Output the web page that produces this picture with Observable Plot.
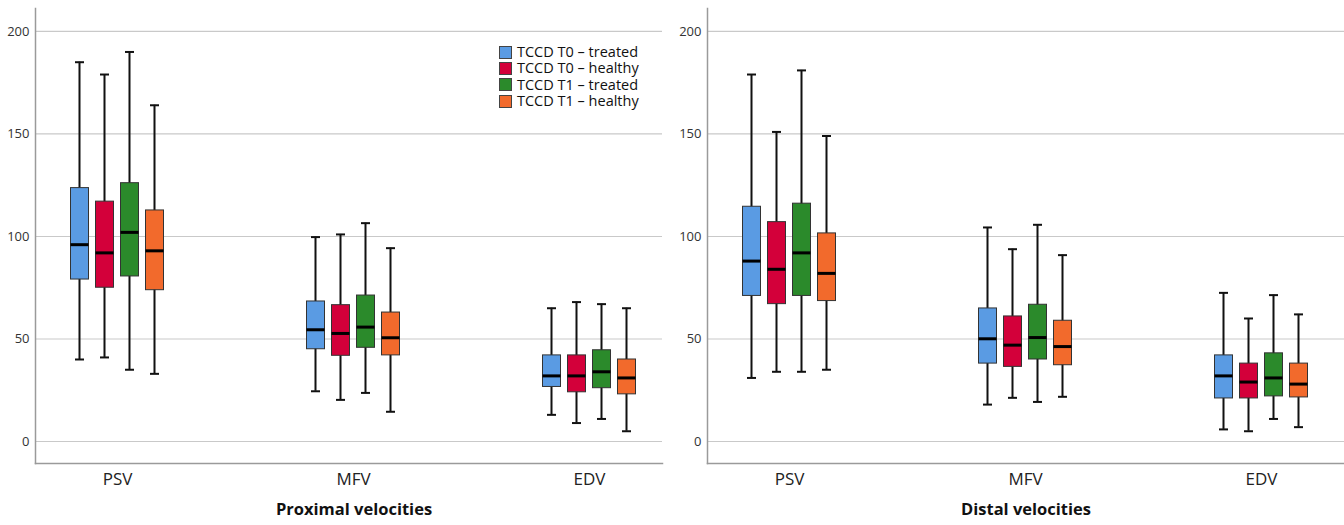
<!DOCTYPE html>
<html><head><meta charset="utf-8">
<script src="https://cdn.jsdelivr.net/npm/d3@7"></script>
<script src="https://cdn.jsdelivr.net/npm/@observablehq/plot@0.6"></script>
<style>
body{margin:0;background:#fff;}
#wrap{position:relative;width:1344px;height:525px;display:flex;}
.legend{position:absolute;left:499px;top:44px;font-family:"Open Sans",sans-serif;font-size:14.5px;color:#111;line-height:16.4px}
.legend .row{display:flex;align-items:center;height:16.4px;}
.legend .sw{width:11px;height:11px;border:1px solid #444;margin-right:5px;display:inline-block}
</style></head><body><div id="wrap"></div>
<script>
const metrics = ["PSV", "MFV", "EDV"];
const groups = ["TCCD T0 – treated", "TCCD T0 – healthy", "TCCD T1 – treated", "TCCD T1 – healthy"];
const colors = ["#5A9BE3", "#D3003A", "#2B8A2B", "#F26A2C"];
const yTicks = [0, 50, 100, 150, 200];

// order: PSV(4 groups), MFV(4 groups), EDV(4 groups)
const proximalMin    = [40, 41, 35, 33,   24.5, 20.3, 23.7, 14.5,  13, 9, 11, 5];
const proximalQ1     = [79, 75, 80.5, 73.8, 45, 41.8, 45.7, 42,    26.6, 24, 26, 23];
const proximalMedian = [96, 92, 102, 93,  54.5, 52.7, 55.8, 50.6,  32, 32, 34, 31];
const proximalQ3     = [123.6, 117, 126, 112.7, 68.3, 66.5, 71.2, 62.9, 42, 42, 44.5, 40];
const proximalMax    = [185, 179, 190, 164, 99.7, 101, 106.5, 94.3, 65, 68, 67, 65];

const distalMin    = [31, 34, 34, 35,   18, 21.3, 19.3, 21.8,  5.9, 5, 11, 7];
const distalQ1     = [71, 67, 71, 68.5, 38, 36.4, 40, 37.2,    21, 21, 22, 21.5];
const distalMedian = [88, 84, 92, 82,   50.1, 47, 50.7, 46.3,  32, 29, 31, 28];
const distalQ3     = [114.5, 107, 116, 101.5, 64.9, 61, 66.7, 58.9, 42, 38, 43, 38];
const distalMax    = [179, 151, 181, 149, 104.4, 93.8, 105.7, 90.9, 72.5, 60, 71.4, 62];

function panel(title, mins, q1s, meds, q3s, maxs, marginRight, titleDx) {
  const rows = [];
  metrics.forEach((m, mi) => groups.forEach((g, gi) => {
    const k = mi * 4 + gi;
    rows.push({metric: m, group: g, gi, min: mins[k], q1: q1s[k], median: meds[k], q3: q3s[k], max: maxs[k]});
  }));
  const slot = 25;
  const marks = [
    Plot.ruleY(yTicks, {stroke: "#c9c9c9", strokeWidth: 1.2}),
    Plot.frame({anchor: "left", stroke: "#9a9a9a", strokeWidth: 1.5}),
    Plot.frame({anchor: "bottom", stroke: "#9a9a9a", strokeWidth: 1.5}),
    Plot.axisY(yTicks, {tickSize: 0, tickPadding: 6, fontSize: 13, fill: "#333", label: null}),
    Plot.axisX({tickSize: 0, tickPadding: 9, fontSize: 17, fill: "#222", label: null}),
    Plot.text([title], {frameAnchor: "bottom", dy: 51, dx: titleDx, fontSize: 16.5, fontWeight: "bold", fill: "#111"})
  ];
  groups.forEach((g, gi) => {
    const d = rows.filter(r => r.gi === gi);
    const L = gi * slot, R = (3 - gi) * slot;
    marks.push(Plot.barY(d, {x: "metric", y1: "min", y2: "max", fill: "#111", insetLeft: L + 11.5, insetRight: R + 11.5}));
    marks.push(Plot.barY(d, {x: "metric", y1: "q1", y2: "q3", fill: colors[gi], stroke: "#333", strokeWidth: 1, insetLeft: L + 3.5, insetRight: R + 3.5}));
    marks.push(Plot.tickY(d, {x: "metric", y: "median", stroke: "#000", strokeWidth: 3, insetLeft: L + 3.5, insetRight: R + 3.5}));
    marks.push(Plot.tickY(d, {x: "metric", y: "min", stroke: "#111", strokeWidth: 2, insetLeft: L + 8, insetRight: R + 8}));
    marks.push(Plot.tickY(d, {x: "metric", y: "max", stroke: "#111", strokeWidth: 2, insetLeft: L + 8, insetRight: R + 8}));
  });
  return Plot.plot({
    width: 672,
    height: 525,
    marginTop: 8,
    marginBottom: 62,
    marginLeft: 35,
    marginRight: marginRight,
    style: {fontFamily: "Open Sans, sans-serif", background: "#fff"},
    x: {type: "band", domain: metrics, range: [66, 640], paddingInner: 0.578, paddingOuter: 0, axis: null},
    y: {domain: [-10.73, 211.2], axis: null},
    marks
  });
}

const wrap = document.getElementById("wrap");
wrap.appendChild(panel("Proximal velocities", proximalMin, proximalQ1, proximalMedian, proximalQ3, proximalMax, 10, 5));
wrap.appendChild(panel("Distal velocities", distalMin, distalQ1, distalMedian, distalQ3, distalMax, 0, 0));

const leg = document.createElement("div");
leg.className = "legend";
groups.forEach((g, i) => {
  const row = document.createElement("div");
  row.className = "row";
  const sw = document.createElement("span");
  sw.className = "sw";
  sw.style.background = colors[i];
  row.appendChild(sw);
  row.appendChild(document.createTextNode(g));
  leg.appendChild(row);
});
wrap.appendChild(leg);
</script></body></html>
